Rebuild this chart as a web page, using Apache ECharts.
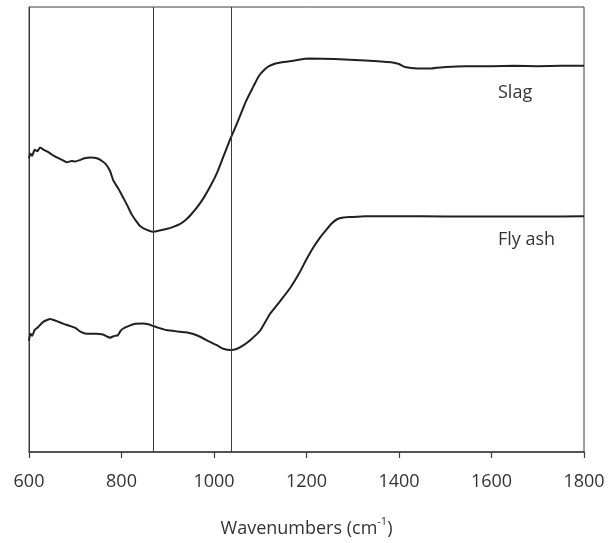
<!DOCTYPE html>
<html><head><meta charset="utf-8">
<script src="https://cdn.jsdelivr.net/npm/echarts@6/dist/echarts.min.js"></script>
<style>html,body{margin:0;padding:0;background:#fff}#c{width:614px;height:543px}</style>
</head><body><div id="c"></div>
<script>
// x tick labels
var xTicks = [600, 800, 1000, 1200, 1400, 1600, 1800];
// reference band positions (cm-1)
var refLines = [868, 1038];
// Slag spectrum: wavenumber, relative absorbance (arb. units)
var slagX = [600,603,607,612,618,624,632,640,650,660,670,682,692,700,710,720,732,750,765,775,782,793,804,813,822,831,840,855,868,880,897,912,926,938,948,962,977,992,1006,1020,1035,1050,1069,1085,1097,1110,1119,1133,1147,1175,1205,1260,1327,1383,1400,1413,1440,1470,1500,1543,1600,1650,1700,1750,1800];
var slagY = [66.0,67.0,66.6,67.9,67.6,68.4,67.9,67.5,66.8,66.2,65.7,65.1,65.4,65.3,65.6,66.0,66.2,65.9,64.8,63.2,61.1,59.2,57.1,55.3,53.4,52.0,50.8,49.9,49.5,49.7,50.1,50.6,51.2,52.1,53.1,54.8,57.0,59.7,62.6,66.3,70.3,73.9,78.8,82.1,84.5,86.0,86.7,87.3,87.6,88.0,88.4,88.3,88.0,87.6,87.2,86.5,86.2,86.2,86.5,86.7,86.7,86.8,86.7,86.8,86.8];
// Fly ash spectrum
var flyX = [600,603,607,612,620,630,646,660,675,689,700,712,725,745,760,770,775,785,792,798,803,815,830,846,858,868,880,897,920,939,955,970,990,1006,1020,1036,1050,1064,1080,1100,1121,1143,1165,1186,1200,1215,1230,1244,1255,1266,1280,1294,1327,1400,1500,1600,1700,1800];
var flyY = [25.0,26.6,26.1,27.4,28.1,29.2,29.9,29.4,28.8,28.3,27.9,27.0,26.6,26.6,26.4,25.9,25.7,26.1,26.2,27.2,27.7,28.3,28.8,28.9,28.7,28.3,27.9,27.4,27.1,26.9,26.5,25.9,24.8,24.0,23.2,22.9,23.2,24.0,25.3,27.3,31.0,33.9,36.9,40.5,43.3,46.0,48.3,50.1,51.4,52.3,52.7,52.8,53.0,53.0,52.9,52.9,52.9,53.0];
var seriesNames = ['Slag', 'Fly ash'];
var labelAt = [[1614, 80.8], [1614, 47.7]];

function pairs(xs, ys){ return xs.map(function(x,i){ return [x, ys[i]]; }); }

var FONT = '"Open Sans", sans-serif';
var axisCol = '#3c3c3c';
var chart = echarts.init(document.getElementById('c'), null, {renderer:'canvas'});
chart.setOption({
  animation: false,
  grid: {left: 29, right: 30, top: 7, bottom: 82, show: true, borderColor: axisCol, borderWidth: 1, containLabel: false},
  xAxis: {
    type: 'value', min: 600, max: 1800, interval: 200,
    axisLine: {show: true, lineStyle: {color: axisCol, width: 1.5}},
    axisTick: {show: true, inside: false, length: 6, lineStyle: {color: axisCol, width: 1.2}},
    axisLabel: {color: '#333', fontFamily: FONT, fontSize: 18, margin: 21,
      formatter: function(v){ return xTicks.indexOf(v) >= 0 ? String(v) : ''; }},
    splitLine: {show: false},
    name: '{a|Wavenumbers (cm}{s|-1}{a|)}',
    nameLocation: 'middle', nameGap: 64,
    nameTextStyle: {rich: {
      a: {fontFamily: FONT, fontSize: 18, color: '#333', verticalAlign: 'bottom', lineHeight: 22},
      s: {fontFamily: FONT, fontSize: 11, color: '#333', verticalAlign: 'top', lineHeight: 22, padding: [0,0,10,0]}
    }}
  },
  yAxis: {
    type: 'value', min: 0, max: 100,
    axisLine: {show: true, lineStyle: {color: axisCol, width: 1}},
    axisTick: {show: false}, axisLabel: {show: false}, splitLine: {show: false}
  },
  series: [
    {
      name: seriesNames[0], type: 'line', data: pairs(slagX, slagY), showSymbol: false, smooth: 0.15,
      lineStyle: {color: '#231f20', width: 2}, z: 3,
      markLine: {
        silent: true, symbol: ['none','none'], label: {show: false},
        lineStyle: {color: axisCol, width: 1, type: 'solid'},
        data: refLines.map(function(v){ return {xAxis: v}; })
      },
      markPoint: {
        symbol: 'circle', symbolSize: 0,
        label: {show: true, formatter: seriesNames[0], position: 'right', distance: 0, color: '#333', fontFamily: FONT, fontSize: 18},
        data: [{coord: labelAt[0]}]
      }
    },
    {
      name: seriesNames[1], type: 'line', data: pairs(flyX, flyY), showSymbol: false, smooth: 0.15,
      lineStyle: {color: '#231f20', width: 2}, z: 3,
      markPoint: {
        symbol: 'circle', symbolSize: 0,
        label: {show: true, formatter: seriesNames[1], position: 'right', distance: 0, color: '#333', fontFamily: FONT, fontSize: 18},
        data: [{coord: labelAt[1]}]
      }
    }
  ]
});
</script></body></html>
